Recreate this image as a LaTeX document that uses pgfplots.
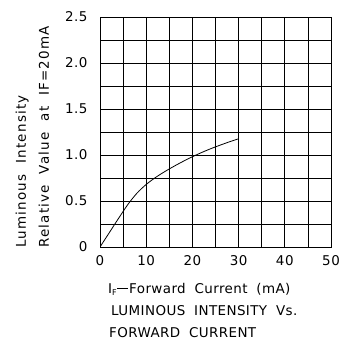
\documentclass[border=0pt]{standalone}
\usepackage{fontspec}
\setmainfont{DejaVu Sans}
\newfontfamily\labelfont[LetterSpace=9, WordSpace=2.0]{DejaVu Sans}
\newfontfamily\captionfont[LetterSpace=3, WordSpace=1.9]{DejaVu Sans}
\newfontfamily\tickfont[LetterSpace=4]{DejaVu Sans}
\usepackage{pgfplots}
\pgfplotsset{compat=1.18}
\begin{document}
\begin{tikzpicture}[x=1bp,y=1bp]
\begin{axis}[
  scale only axis,
  width=231bp, height=230bp,
  xmin=0, xmax=50, ymin=0, ymax=2.5,
  xtick={0,5,10,15,20,25,30,35,40,45,50},
  xticklabels={0,,10,,20,,30,,40,,50},
  ytick={0,0.25,0.5,0.75,1,1.25,1.5,1.75,2,2.25,2.5},
  yticklabels={0,,0.5,,1.0,,1.5,,2.0,,2.5},
  grid=major,
  major grid style={black, line width=0.7bp},
  axis line style={black, line width=0.7bp},
  major tick length=0pt,
  /pgf/number format/assume math mode=true,
  ticklabel style={font=\tickfont\fontsize{13.5}{15}\selectfont},
  xticklabel style={anchor=base, yshift=-18bp},
  yticklabel style={anchor=east, xshift=-9bp},
]
\addplot[black, line width=0.8bp, smooth] coordinates {
  (0,0) (2,0.155) (4,0.31) (6,0.46) (8,0.585) (10,0.68)
  (12,0.755) (14,0.819) (16,0.877) (18,0.931) (20,0.981) (22,1.027)
  (24,1.069) (26,1.107) (28,1.143) (29.9,1.175)
};
\end{axis}
% axis labels and caption
\node[rotate=90, anchor=base west, font=\labelfont\fontsize{13.5}{15}\selectfont, inner sep=0pt]
  at (-74bp,-1bp) {Luminous Intensity};
\node[rotate=90, anchor=base west, font=\labelfont\fontsize{13.5}{15}\selectfont, inner sep=0pt]
  at (-51bp,-1bp) {Relative Value at IF=20mA};
\node[anchor=base west, font=\captionfont\fontsize{13.5}{15}\selectfont, inner sep=0pt]
  at (8bp,-46bp) {I\raisebox{-2bp}{\fontsize{8}{9}\selectfont F}\kern0.5pt\rule[4.2bp]{11bp}{0.9bp}\kern1pt Forward Current (mA)};
\node[anchor=base west, font=\captionfont\fontsize{13.5}{15}\selectfont, inner sep=0pt]
  at (11bp,-68bp) {LUMINOUS INTENSITY Vs.};
\node[anchor=base west, font=\captionfont\fontsize{13.5}{15}\selectfont, inner sep=0pt]
  at (9bp,-90bp) {FORWARD CURRENT};
\pgfresetboundingbox
\useasboundingbox (-100bp,-98bp) rectangle (249bp,247bp);
\end{tikzpicture}
\end{document}
